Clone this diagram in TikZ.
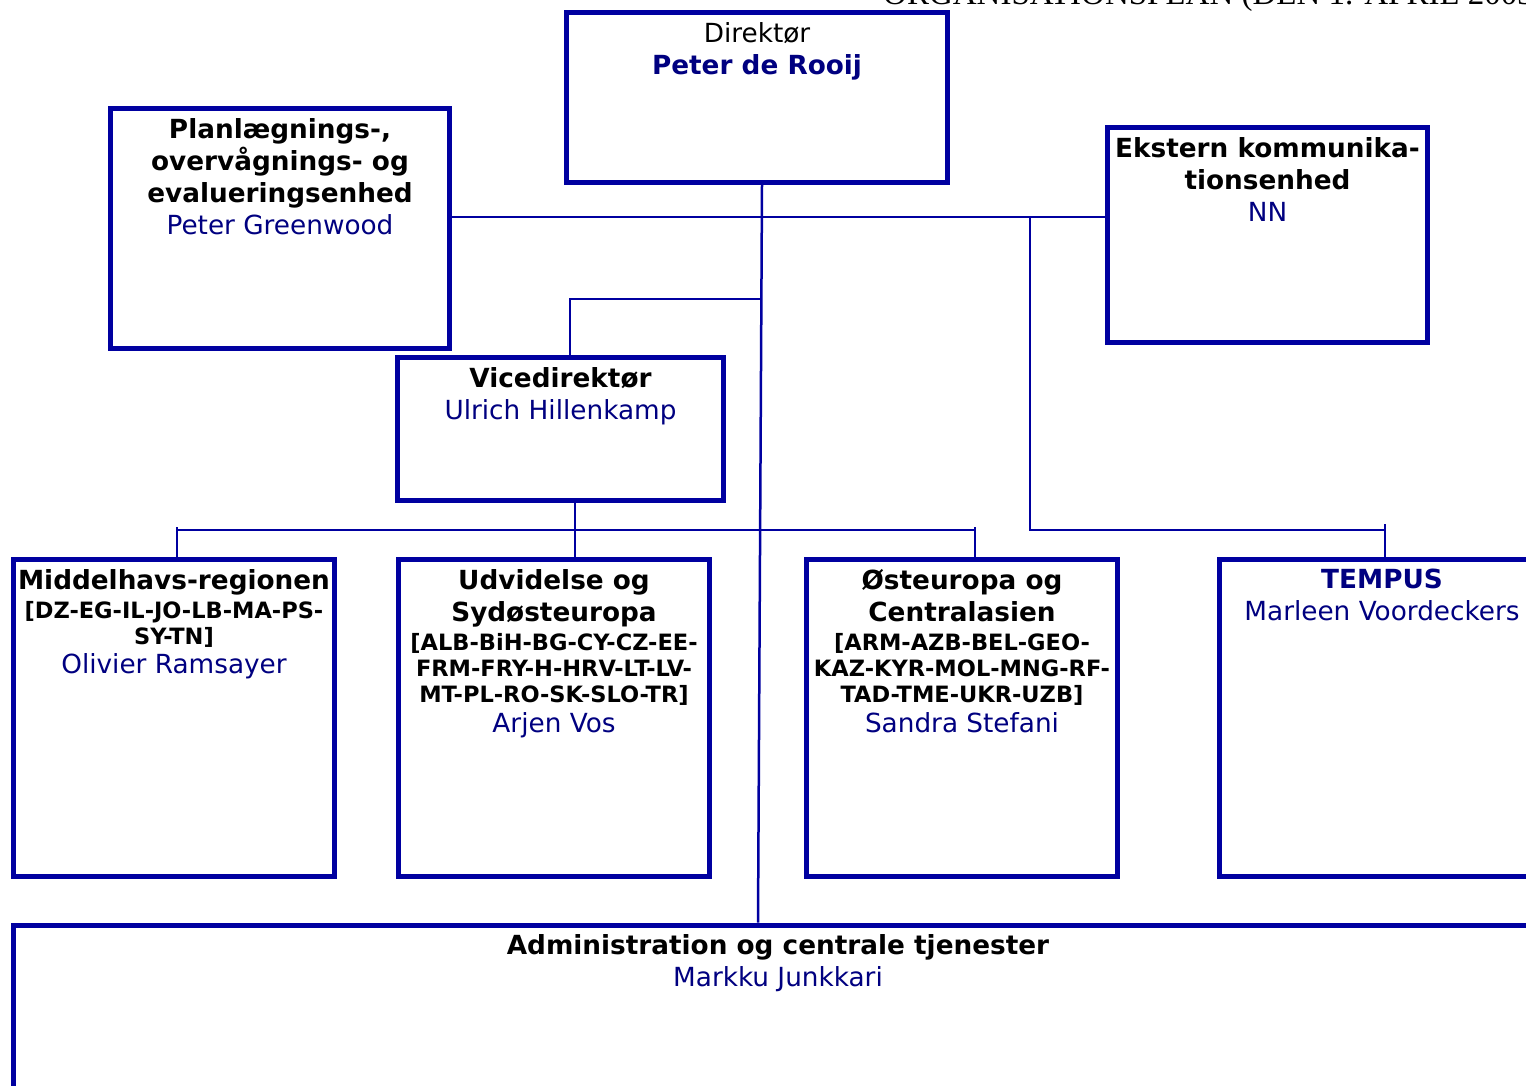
\documentclass[tikz,border=0pt]{standalone}
\usepackage{fontspec}
\setmainfont{DejaVu Sans}
\newfontfamily\titlefont{Liberation Serif}
\usepackage{xcolor}
\usetikzlibrary{positioning}
\definecolor{boxblue}{RGB}{0,0,160}
\definecolor{nameblue}{RGB}{0,0,128}
\newcommand{\codefont}{\fontsize{22.5}{26}\selectfont\bfseries}
\newcommand{\namefont}{\mdseries\color{nameblue}}

\begin{document}
\begin{tikzpicture}[x=1pt,y=-1pt]
\tikzstyle{every node}+=[inner sep=0pt]
\tikzstyle{unit}=[draw=boxblue, line width=5pt, rectangle]
\tikzstyle{caption}=[align=center, font=\fontsize{26.3}{32}\selectfont\bfseries]
\tikzstyle{link}=[draw=boxblue, line width=2.5pt]
\useasboundingbox (0,0) rectangle (1526,1086);
% title, cut at the top of the page
\node[anchor=base west, font=\titlefont\fontsize{33}{33}\selectfont] (title) at (883,5) {ORGANISATIONSPLAN (DEN 1. APRIL 2003)};
% boxes
\node[unit, minimum width=381, minimum height=170] (dir) at (757,97.5) {};
\node[unit, minimum width=339, minimum height=240] (plan) at (280,228.5) {};
\node[unit, minimum width=320, minimum height=215] (ekst) at (1267.5,235) {};
\node[unit, minimum width=326, minimum height=143] (vice) at (560.5,429) {};
\node[unit, minimum width=321, minimum height=317] (mid) at (174,718) {};
\node[unit, minimum width=311, minimum height=317] (udv) at (554,718) {};
\node[unit, minimum width=311, minimum height=317] (ost) at (962,718) {};
\node[unit, minimum width=325, minimum height=317] (tempus) at (1382,718) {};
\node[unit, minimum width=1529, minimum height=204] (admin) at (778,1027) {};
% texts
\node[caption, below=12pt of dir.north] (dirtxt) {\mdseries Direktør\\ \color{nameblue}Peter de Rooij};
\node[caption, below=12pt of plan.north] (plantxt) {Planlægnings-,\\ overvågnings- og\\ evalueringsenhed\\ \namefont Peter Greenwood};
\node[caption, below=12pt of ekst.north] (ekstxt) {Ekstern kommunika-\\ tionsenhed\\ \namefont NN};
\node[caption, below=12pt of vice.north] (vicetxt) {Vicedirektør\\ \namefont Ulrich Hillenkamp};
\node[caption, below=12pt of mid.north] (midtxt) {Middelhavs-regionen\\[-3pt] \codefont [DZ-EG-IL-JO-LB-MA-PS-\\[-6pt] \codefont SY-TN]\\[-3pt] \namefont Olivier Ramsayer};
\node[caption, below=12pt of udv.north] (udvtxt) {Udvidelse og\\ Sydøsteuropa\\[-3pt] \codefont [ALB-BiH-BG-CY-CZ-EE-\\[-6pt] \codefont FRM-FRY-H-HRV-LT-LV-\\[-6pt] \codefont MT-PL-RO-SK-SLO-TR]\\[-2pt] \namefont Arjen Vos};
\node[caption, below=12pt of ost.north] (osttxt) {Østeuropa og\\ Centralasien\\[-3pt] \codefont [ARM-AZB-BEL-GEO-\\[-6pt] \codefont KAZ-KYR-MOL-MNG-RF-\\[-6pt] \codefont TAD-TME-UKR-UZB]\\[-2pt] \namefont Sandra Stefani};
\node[caption, below=12pt of tempus.north] (temptxt) {\color{nameblue}TEMPUS\\ \namefont Marleen Voordeckers};
\node[caption, below=12pt of admin.north] (admtxt) {Administration og centrale tjenester\\ \namefont Markku Junkkari};
% connectors
\coordinate (trunk) at (762,217);
\coordinate (foot) at (758,925);
\draw[link] (dir.south -| trunk) -- (foot |- admin.north);
\draw[link] (plan.east |- trunk) -- (ekst.west |- trunk);
\coordinate (vtap) at (570,299);
\draw[link] (trunk |- vtap) -- (vtap) -- (vtap |- vice.north);
\coordinate (rtap) at (1030,217);
\coordinate (rbar) at (1030,530);
\coordinate (ttap) at (1385,530);
\draw[link] (rtap) -- (rbar) -- (ttap);
\draw[link] ([yshift=6pt]ttap) -- (ttap |- tempus.north);
\coordinate (t1) at (177,530);
\coordinate (t2) at (575,530);
\coordinate (t3) at (975,530);
\draw[link] (vice.south -| t2) -- (t2 |- udv.north);
\draw[link] (t1) -- (t3);
\draw[link] ([yshift=3pt]t1) -- (t1 |- mid.north);
\draw[link] ([yshift=3pt]t3) -- (t3 |- ost.north);
\end{tikzpicture}
\end{document}
